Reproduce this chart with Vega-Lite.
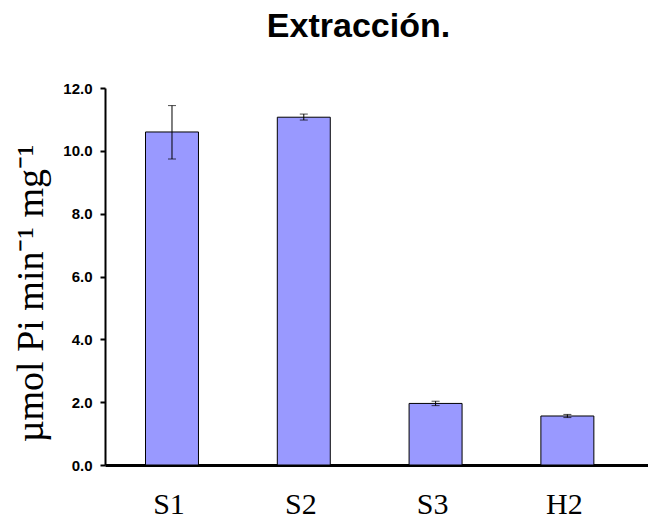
{
  "$schema": "https://vega.github.io/schema/vega-lite/v6.json",
  "autosize": {"type": "none"},
  "padding": {"left": 105, "top": 88, "right": 0, "bottom": 54},
  "width": 543,
  "height": 377,
  "background": "white",
  "title": {
    "text": "Extracción.",
    "font": "Liberation Sans",
    "fontSize": 34,
    "fontWeight": "bold",
    "color": "black",
    "anchor": "middle",
    "frame": "group",
    "baseline": "alphabetic",
    "offset": 10,
    "dx": -18
  },
  "data": {
    "values": [
      {"sample": "S1", "value": 10.6, "lo": 9.74, "hi": 11.44},
      {"sample": "S2", "value": 11.07, "lo": 10.98, "hi": 11.17},
      {"sample": "S3", "value": 1.96, "lo": 1.89, "hi": 2.03},
      {"sample": "H2", "value": 1.56, "lo": 1.51, "hi": 1.61}
    ]
  },
  "config": {"view": {"stroke": null}},
  "encoding": {
    "x": {
      "field": "sample",
      "type": "nominal",
      "sort": ["S1", "S2", "S3", "H2"],
      "scale": {"paddingInner": 0.598, "paddingOuter": 0.359, "align": 0.428},
      "axis": {
        "title": null,
        "labelAngle": 0,
        "labelFont": "Liberation Serif",
        "labelFontSize": 30,
        "labelColor": "black",
        "labelPadding": 24,
        "labelOffset": -3,
        "ticks": false,
        "domainColor": "black",
        "domainWidth": 3,
        "grid": false
      }
    }
  },
  "layer": [
    {
      "mark": {"type": "bar", "fill": "#9999ff", "stroke": "black", "strokeWidth": 1},
      "encoding": {
        "y": {
          "field": "value",
          "type": "quantitative",
          "scale": {"domain": [0, 12], "nice": false},
          "axis": {
            "title": "µmol Pi min⁻¹ mg⁻¹",
            "titleFont": "Liberation Serif",
            "titleFontSize": 38,
            "titleFontWeight": "normal",
            "titleColor": "black",
            "titleAngle": -90,
            "titleAlign": "center",
            "titleBaseline": "alphabetic",
            "titleX": -63,
            "titleY": 205,
            "values": [0, 2, 4, 6, 8, 10, 12],
            "format": ".1f",
            "labelFont": "Liberation Sans",
            "labelFontSize": 15,
            "labelFontWeight": "bold",
            "labelColor": "black",
            "labelPadding": 8,
            "tickColor": "black",
            "tickWidth": 2,
            "tickSize": 5,
            "domainColor": "black",
            "domainWidth": 2,
            "grid": false
          }
        }
      }
    },
    {
      "mark": {"type": "rule", "color": "black", "strokeWidth": 1},
      "encoding": {
        "y": {"field": "lo", "type": "quantitative"},
        "y2": {"field": "hi"}
      }
    },
    {
      "mark": {"type": "tick", "color": "black", "thickness": 1, "size": 8, "orient": "horizontal"},
      "encoding": {"y": {"field": "lo", "type": "quantitative"}}
    },
    {
      "mark": {"type": "tick", "color": "black", "thickness": 1, "size": 8, "orient": "horizontal"},
      "encoding": {"y": {"field": "hi", "type": "quantitative"}}
    }
  ]
}
